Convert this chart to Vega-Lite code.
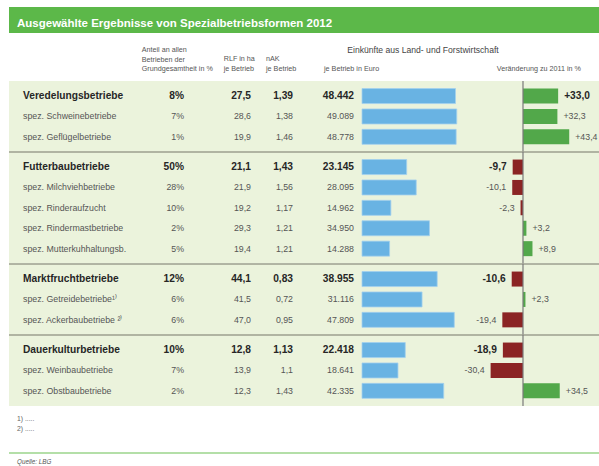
{
  "$schema": "https://vega.github.io/schema/vega-lite/v6.json",
  "background": "white",
  "padding": {"left": 8, "top": 7, "right": 0, "bottom": 0},
  "spacing": 0,
  "config": {
    "font": "Liberation Sans",
    "view": {"fill": "#ebf3dc", "stroke": null},
    "locale": {"number": {"decimal": ",", "thousands": ".", "grouping": [3], "currency": ["", " €"], "minus": "-"}}
  },
  "vconcat": [
    {
      "width": 591,
      "height": 26,
      "view": {"fill": "#5cb849", "stroke": null},
      "data": {"values": [{}]},
      "mark": {"type": "text", "text": "Ausgewählte Ergebnisse von Spezialbetriebsformen 2012", "align": "left", "baseline": "alphabetic", "dx": -287.5, "dy": 6.7, "fontSize": 11.5, "fontWeight": "bold", "color": "white"},
      "encoding": {}
    },
    {
      "width": 591,
      "height": 46.45,
      "data": {"values": [{}]},
      "layer": [
        {"mark": {"type": "text", "text": "Anteil an allen\nBetrieben der\nGrundgesamtheit in %", "lineBreak": "\n", "lineHeight": 9.7, "align": "left", "baseline": "middle", "dx": -162.8, "dy": -6.2, "fontSize": 7.2, "color": "#555"}, "encoding": {}},
        {"mark": {"type": "text", "text": "RLF in ha\nje Betrieb", "lineBreak": "\n", "lineHeight": 9.7, "align": "left", "baseline": "middle", "dx": -80.8, "dy": 3.1, "fontSize": 7.2, "color": "#555"}, "encoding": {}},
        {"mark": {"type": "text", "text": "nAK\nje Betrieb", "lineBreak": "\n", "lineHeight": 9.7, "align": "left", "baseline": "middle", "dx": -38.5, "dy": 3.1, "fontSize": 7.2, "color": "#555"}, "encoding": {}},
        {"mark": {"type": "text", "text": "je Betrieb in Euro", "align": "left", "baseline": "middle", "dx": 19.5, "dy": 13.1, "fontSize": 7.2, "color": "#555"}, "encoding": {}},
        {"mark": {"type": "text", "text": "Einkünfte aus Land- und Forstwirtschaft", "align": "center", "baseline": "middle", "dx": 118.5, "dy": -6.2, "fontSize": 8.6, "color": "#444"}, "encoding": {}},
        {"mark": {"type": "text", "text": "Veränderung zu 2011 in %", "align": "right", "baseline": "middle", "dx": 276.5, "dy": 13.1, "fontSize": 7.2, "color": "#555"}, "encoding": {}}
      ]
    },
    {
      "data": {"values": [
        {"group": "Veredelungsbetriebe", "level": "group", "name": "Veredelungsbetriebe", "anteil": 0.08, "rlf": 27.5, "nak": 1.39, "euro": 48442, "change": 33.0},
        {"group": "Veredelungsbetriebe", "level": "sub", "name": "spez. Schweinebetriebe", "anteil": 0.07, "rlf": 28.6, "nak": 1.38, "euro": 49089, "change": 32.3},
        {"group": "Veredelungsbetriebe", "level": "sub", "name": "spez. Geflügelbetriebe", "anteil": 0.01, "rlf": 19.9, "nak": 1.46, "euro": 48778, "change": 43.4},
        {"group": "Futterbaubetriebe", "level": "group", "name": "Futterbaubetriebe", "anteil": 0.50, "rlf": 21.1, "nak": 1.43, "euro": 23145, "change": -9.7},
        {"group": "Futterbaubetriebe", "level": "sub", "name": "spez. Milchviehbetriebe", "anteil": 0.28, "rlf": 21.9, "nak": 1.56, "euro": 28095, "change": -10.1},
        {"group": "Futterbaubetriebe", "level": "sub", "name": "spez. Rinderaufzucht", "anteil": 0.10, "rlf": 19.2, "nak": 1.17, "euro": 14962, "change": -2.3},
        {"group": "Futterbaubetriebe", "level": "sub", "name": "spez. Rindermastbetriebe", "anteil": 0.02, "rlf": 29.3, "nak": 1.21, "euro": 34950, "change": 3.2},
        {"group": "Futterbaubetriebe", "level": "sub", "name": "spez. Mutterkuhhaltungsb.", "anteil": 0.05, "rlf": 19.4, "nak": 1.21, "euro": 14288, "change": 8.9},
        {"group": "Marktfruchtbetriebe", "level": "group", "name": "Marktfruchtbetriebe", "anteil": 0.12, "rlf": 44.1, "nak": 0.83, "euro": 38955, "change": -10.6},
        {"group": "Marktfruchtbetriebe", "level": "sub", "name": "spez. Getreidebetriebe¹⁾", "anteil": 0.06, "rlf": 41.5, "nak": 0.72, "euro": 31116, "change": 2.3},
        {"group": "Marktfruchtbetriebe", "level": "sub", "name": "spez. Ackerbaubetriebe ²⁾", "anteil": 0.06, "rlf": 47.0, "nak": 0.95, "euro": 47809, "change": -19.4},
        {"group": "Dauerkulturbetriebe", "level": "group", "name": "Dauerkulturbetriebe", "anteil": 0.10, "rlf": 12.8, "nak": 1.13, "euro": 22418, "change": -18.9},
        {"group": "Dauerkulturbetriebe", "level": "sub", "name": "spez. Weinbaubetriebe", "anteil": 0.07, "rlf": 13.9, "nak": 1.1, "euro": 18641, "change": -30.4},
        {"group": "Dauerkulturbetriebe", "level": "sub", "name": "spez. Obstbaubetriebe", "anteil": 0.02, "rlf": 12.3, "nak": 1.43, "euro": 42335, "change": 34.5}
      ]},
      "transform": [{"window": [{"op": "row_number", "as": "idx"}]}],
      "facet": {"row": {"field": "group", "type": "nominal", "header": null, "sort": ["Veredelungsbetriebe", "Futterbaubetriebe", "Marktfruchtbetriebe", "Dauerkulturbetriebe"]}},
      "spacing": 0,
      "bounds": "flush",
      "resolve": {"scale": {"y": "independent"}},
      "spec": {
        "width": 591,
        "height": {"step": 20.4},
        "resolve": {"scale": {"x": "independent"}},
        "layer": [
          {
            "transform": [{"filter": "datum.level == 'group' && datum.group != 'Veredelungsbetriebe'"}],
            "mark": {"type": "rule", "color": "#9d9f8f", "strokeWidth": 1.6, "yOffset": -4.86},
            "encoding": {"y": {"field": "name", "type": "nominal", "bandPosition": 0, "sort": {"field": "idx", "op": "min"}, "axis": null, "scale": {"paddingInner": 0, "paddingOuter": 0.238}}}
          },
          {
            "mark": {"type": "bar", "height": 15, "fill": "#69b3e3", "stroke": "#a3d1ee", "strokeWidth": 0.8},
            "encoding": {
              "y": {"field": "name", "type": "nominal", "sort": {"field": "idx", "op": "min"}, "axis": null, "scale": {"paddingInner": 0, "paddingOuter": 0.238}},
              "x": {"field": "euro", "type": "quantitative", "scale": {"domain": [-182902, 123316], "nice": false}, "axis": null},
              "x2": {"datum": 0}
            }
          },
          {
            "mark": {"type": "bar", "height": 15},
            "encoding": {
              "y": {"field": "name", "type": "nominal", "sort": {"field": "idx", "op": "min"}, "axis": null, "scale": {"paddingInner": 0, "paddingOuter": 0.238}},
              "x": {"field": "change", "type": "quantitative", "scale": {"domain": [-482.6, 72.3], "nice": false}, "axis": null},
              "x2": {"datum": 0},
              "color": {"condition": {"test": "datum.change >= 0", "value": "#52a84a"}, "value": "#8b2424"}
            }
          },
          {
            "transform": [{"filter": "datum.level == 'group'"}],
            "mark": {"type": "rule", "color": "#7a7a7a", "strokeWidth": 1.2},
            "encoding": {"x": {"datum": 0, "type": "quantitative", "scale": {"domain": [-482.6, 72.3], "nice": false}, "axis": null}}
          },
          {
            "transform": [{"filter": "datum.level == 'group'"}],
            "mark": {"type": "text", "align": "left", "baseline": "middle", "dx": -339, "fontSize": 10.2, "fontWeight": "bold", "color": "#262626"},
            "encoding": {
              "y": {"field": "name", "type": "nominal", "sort": {"field": "idx", "op": "min"}, "axis": null, "scale": {"paddingInner": 0, "paddingOuter": 0.238}},
              "x": {"datum": 0, "type": "quantitative", "scale": {"domain": [-182902, 123316], "nice": false}, "axis": null},
              "text": {"field": "name"}
            }
          },
          {
            "transform": [{"filter": "datum.level == 'sub'"}],
            "mark": {"type": "text", "align": "left", "baseline": "middle", "dx": -339, "fontSize": 8.8, "color": "#555555"},
            "encoding": {
              "y": {"field": "name", "type": "nominal", "sort": {"field": "idx", "op": "min"}, "axis": null, "scale": {"paddingInner": 0, "paddingOuter": 0.238}},
              "x": {"datum": 0, "type": "quantitative", "scale": {"domain": [-182902, 123316], "nice": false}, "axis": null},
              "text": {"field": "name"}
            }
          },
          {
            "transform": [{"filter": "datum.level == 'group'"}],
            "mark": {"type": "text", "align": "right", "baseline": "middle", "dx": -178, "fontSize": 10.2, "fontWeight": "bold", "color": "#262626"},
            "encoding": {
              "y": {"field": "name", "type": "nominal", "sort": {"field": "idx", "op": "min"}, "axis": null, "scale": {"paddingInner": 0, "paddingOuter": 0.238}},
              "x": {"datum": 0, "type": "quantitative", "scale": {"domain": [-182902, 123316], "nice": false}, "axis": null},
              "text": {"field": "anteil", "type": "quantitative", "format": ".0%"}
            }
          },
          {
            "transform": [{"filter": "datum.level == 'sub'"}],
            "mark": {"type": "text", "align": "right", "baseline": "middle", "dx": -178, "fontSize": 8.8, "color": "#555555"},
            "encoding": {
              "y": {"field": "name", "type": "nominal", "sort": {"field": "idx", "op": "min"}, "axis": null, "scale": {"paddingInner": 0, "paddingOuter": 0.238}},
              "x": {"datum": 0, "type": "quantitative", "scale": {"domain": [-182902, 123316], "nice": false}, "axis": null},
              "text": {"field": "anteil", "type": "quantitative", "format": ".0%"}
            }
          },
          {
            "transform": [{"filter": "datum.level == 'group'"}],
            "mark": {"type": "text", "align": "right", "baseline": "middle", "dx": -111, "fontSize": 10.2, "fontWeight": "bold", "color": "#262626"},
            "encoding": {
              "y": {"field": "name", "type": "nominal", "sort": {"field": "idx", "op": "min"}, "axis": null, "scale": {"paddingInner": 0, "paddingOuter": 0.238}},
              "x": {"datum": 0, "type": "quantitative", "scale": {"domain": [-182902, 123316], "nice": false}, "axis": null},
              "text": {"field": "rlf", "type": "quantitative", "format": ".1f"}
            }
          },
          {
            "transform": [{"filter": "datum.level == 'sub'"}],
            "mark": {"type": "text", "align": "right", "baseline": "middle", "dx": -111, "fontSize": 8.8, "color": "#555555"},
            "encoding": {
              "y": {"field": "name", "type": "nominal", "sort": {"field": "idx", "op": "min"}, "axis": null, "scale": {"paddingInner": 0, "paddingOuter": 0.238}},
              "x": {"datum": 0, "type": "quantitative", "scale": {"domain": [-182902, 123316], "nice": false}, "axis": null},
              "text": {"field": "rlf", "type": "quantitative", "format": ".1f"}
            }
          },
          {
            "transform": [{"filter": "datum.level == 'group'"}],
            "mark": {"type": "text", "align": "right", "baseline": "middle", "dx": -69, "fontSize": 10.2, "fontWeight": "bold", "color": "#262626"},
            "encoding": {
              "y": {"field": "name", "type": "nominal", "sort": {"field": "idx", "op": "min"}, "axis": null, "scale": {"paddingInner": 0, "paddingOuter": 0.238}},
              "x": {"datum": 0, "type": "quantitative", "scale": {"domain": [-182902, 123316], "nice": false}, "axis": null},
              "text": {"field": "nak", "type": "quantitative", "format": ".3~g"}
            }
          },
          {
            "transform": [{"filter": "datum.level == 'sub'"}],
            "mark": {"type": "text", "align": "right", "baseline": "middle", "dx": -69, "fontSize": 8.8, "color": "#555555"},
            "encoding": {
              "y": {"field": "name", "type": "nominal", "sort": {"field": "idx", "op": "min"}, "axis": null, "scale": {"paddingInner": 0, "paddingOuter": 0.238}},
              "x": {"datum": 0, "type": "quantitative", "scale": {"domain": [-182902, 123316], "nice": false}, "axis": null},
              "text": {"field": "nak", "type": "quantitative", "format": ".3~g"}
            }
          },
          {
            "transform": [{"filter": "datum.level == 'group'"}],
            "mark": {"type": "text", "align": "right", "baseline": "middle", "dx": -8, "fontSize": 10.2, "fontWeight": "bold", "color": "#262626"},
            "encoding": {
              "y": {"field": "name", "type": "nominal", "sort": {"field": "idx", "op": "min"}, "axis": null, "scale": {"paddingInner": 0, "paddingOuter": 0.238}},
              "x": {"datum": 0, "type": "quantitative", "scale": {"domain": [-182902, 123316], "nice": false}, "axis": null},
              "text": {"field": "euro", "type": "quantitative", "format": ",d"}
            }
          },
          {
            "transform": [{"filter": "datum.level == 'sub'"}],
            "mark": {"type": "text", "align": "right", "baseline": "middle", "dx": -8, "fontSize": 8.8, "color": "#555555"},
            "encoding": {
              "y": {"field": "name", "type": "nominal", "sort": {"field": "idx", "op": "min"}, "axis": null, "scale": {"paddingInner": 0, "paddingOuter": 0.238}},
              "x": {"datum": 0, "type": "quantitative", "scale": {"domain": [-182902, 123316], "nice": false}, "axis": null},
              "text": {"field": "euro", "type": "quantitative", "format": ",d"}
            }
          },
          {
            "transform": [{"filter": "datum.level == 'group' && datum.change >= 0"}],
            "mark": {"type": "text", "align": "left", "baseline": "middle", "dx": 6, "fontSize": 10.2, "fontWeight": "bold", "color": "#262626"},
            "encoding": {
              "y": {"field": "name", "type": "nominal", "sort": {"field": "idx", "op": "min"}, "axis": null, "scale": {"paddingInner": 0, "paddingOuter": 0.238}},
              "x": {"field": "change", "type": "quantitative", "scale": {"domain": [-482.6, 72.3], "nice": false}, "axis": null},
              "text": {"field": "change", "type": "quantitative", "format": "+.1f"}
            }
          },
          {
            "transform": [{"filter": "datum.level == 'group' && datum.change < 0"}],
            "mark": {"type": "text", "align": "right", "baseline": "middle", "dx": -6, "fontSize": 10.2, "fontWeight": "bold", "color": "#262626"},
            "encoding": {
              "y": {"field": "name", "type": "nominal", "sort": {"field": "idx", "op": "min"}, "axis": null, "scale": {"paddingInner": 0, "paddingOuter": 0.238}},
              "x": {"field": "change", "type": "quantitative", "scale": {"domain": [-482.6, 72.3], "nice": false}, "axis": null},
              "text": {"field": "change", "type": "quantitative", "format": "+.1f"}
            }
          },
          {
            "transform": [{"filter": "datum.level == 'sub' && datum.change >= 0"}],
            "mark": {"type": "text", "align": "left", "baseline": "middle", "dx": 6, "fontSize": 8.8, "color": "#555555"},
            "encoding": {
              "y": {"field": "name", "type": "nominal", "sort": {"field": "idx", "op": "min"}, "axis": null, "scale": {"paddingInner": 0, "paddingOuter": 0.238}},
              "x": {"field": "change", "type": "quantitative", "scale": {"domain": [-482.6, 72.3], "nice": false}, "axis": null},
              "text": {"field": "change", "type": "quantitative", "format": "+.1f"}
            }
          },
          {
            "transform": [{"filter": "datum.level == 'sub' && datum.change < 0"}],
            "mark": {"type": "text", "align": "right", "baseline": "middle", "dx": -6, "fontSize": 8.8, "color": "#555555"},
            "encoding": {
              "y": {"field": "name", "type": "nominal", "sort": {"field": "idx", "op": "min"}, "axis": null, "scale": {"paddingInner": 0, "paddingOuter": 0.238}},
              "x": {"field": "change", "type": "quantitative", "scale": {"domain": [-482.6, 72.3], "nice": false}, "axis": null},
              "text": {"field": "change", "type": "quantitative", "format": "+.1f"}
            }
          }
        ]
      }
    },
    {
      "width": 591,
      "height": 44.65,
      "data": {"values": [{}]},
      "mark": {"type": "text", "text": "1) .....\n2) .....", "lineBreak": "\n", "lineHeight": 9.5, "align": "left", "baseline": "middle", "dx": -287.5, "dy": -10.2, "fontSize": 6.8, "color": "#666"},
      "encoding": {}
    },
    {
      "width": 591,
      "height": 17.5,
      "data": {"values": [{}]},
      "layer": [
        {"mark": {"type": "rule", "color": "#9bd48b", "strokeWidth": 1.3}, "encoding": {"y": {"datum": 1, "type": "quantitative", "scale": {"domain": [0, 1]}, "axis": null}}},
        {"mark": {"type": "text", "text": "Quelle: LBG", "align": "left", "baseline": "middle", "dx": -287.5, "fontSize": 6.3, "fontStyle": "italic", "color": "#555"}, "encoding": {}}
      ]
    }
  ]
}
